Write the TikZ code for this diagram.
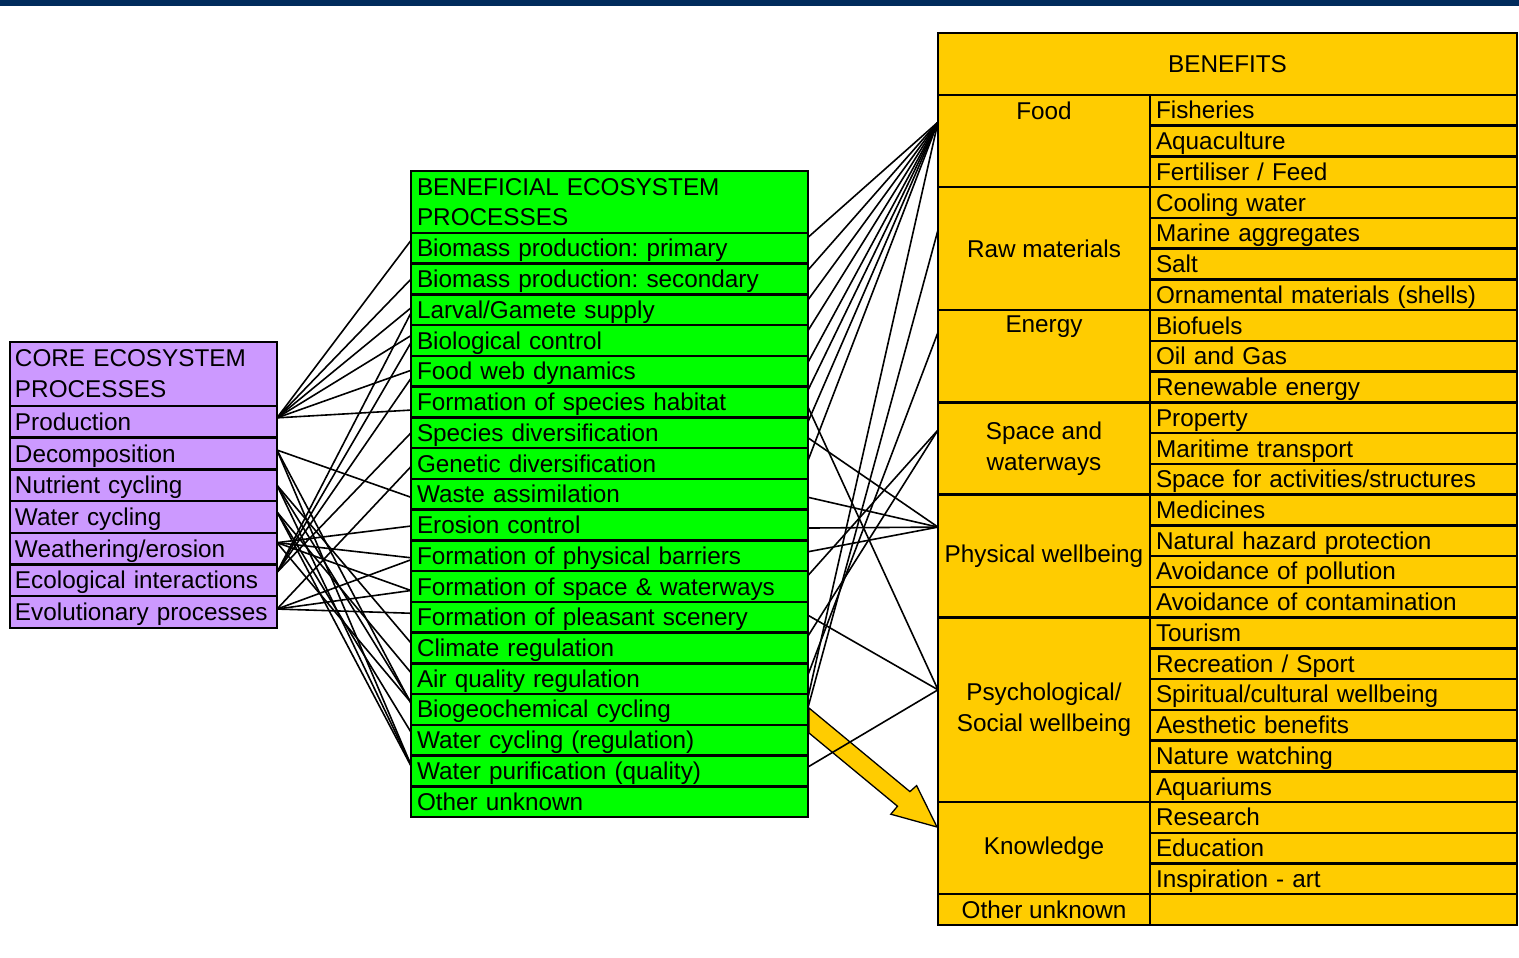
\documentclass[tikz,border=0pt]{standalone}
\usepackage{fontspec}
\setmainfont{Liberation Sans}
\frenchspacing
\definecolor{navy}{HTML}{002B5C}
\definecolor{lilac}{HTML}{CC99FF}
\definecolor{grn}{HTML}{00FF00}
\definecolor{gold}{HTML}{FFCC00}
\pgfdeclarelayer{arrowlayer}
\pgfdeclarelayer{linelayer}
\pgfsetlayers{arrowlayer,linelayer,main}
\begin{document}
\begin{tikzpicture}[x=1pt,y=-1pt,
  base/.style={draw=black, line width=2.5pt, rectangle, inner sep=0pt, outer sep=0pt, font=\fontsize{24.3}{31}\selectfont},
  rowtxt/.style={text height=20pt, text depth=3pt},
  lrow/.style={base, rowtxt, fill=lilac, minimum width=267pt, minimum height=31.7pt, text width=257pt, align=left, anchor=north west},
  lhead/.style={base, fill=lilac, minimum width=267pt, minimum height=64pt, text width=257pt, align=left, anchor=north west},
  mrow/.style={base, rowtxt, fill=grn, minimum width=397pt, minimum height=30.74pt, text width=385pt, align=left, anchor=north west},
  mhead/.style={base, fill=grn, minimum width=397pt, minimum height=62pt, text width=385pt, align=left, anchor=north west, font=\fontsize{24.3}{30}\selectfont},
  irow/.style={base, rowtxt, fill=gold, minimum width=367pt, minimum height=30.74pt, text width=355pt, align=left, anchor=north west},
  grp/.style={base, fill=gold, minimum width=212pt, anchor=north west, align=center},
  gtxt/.style={inner sep=0pt, font=\fontsize{24.3}{31}\selectfont},
  rhead/.style={base, fill=gold, minimum width=579pt, minimum height=62pt, anchor=north west},
  link/.style={draw=black, line width=1.6pt},
]
\useasboundingbox (0,0) rectangle (1519,958);
\fill[navy] (0,0) rectangle (1519,6);

% ---------- left table ----------
\node[lhead] (lh) at (10,342) {CORE ECOSYSTEM\\PROCESSES};
\foreach \t [count=\i] in {Production,Decomposition,Nutrient cycling,Water cycling,Weathering/erosion,Ecological interactions,Evolutionary processes}
  \node[lrow] (l\i) at (10,{406+(\i-1)*31.7}) {\t};

% ---------- middle table ----------
\node[mhead] (mh) at (411,171) {BENEFICIAL ECOSYSTEM\\PROCESSES};
\foreach \t [count=\i] in {Biomass production: primary,Biomass production: secondary,Larval/Gamete supply,Biological control,Food web dynamics,Formation of species habitat,Species diversification,Genetic diversification,Waste assimilation,Erosion control,Formation of physical barriers,Formation of space \& waterways,Formation of pleasant scenery,Climate regulation,Air quality regulation,Biogeochemical cycling,Water cycling (regulation),Water purification (quality),Other unknown}
  \node[mrow] (m\i) at (411,{233+(\i-1)*30.74}) {\t};

% ---------- right table ----------
\node[rhead] (rh) at (938,33) {BENEFITS};
\foreach \t [count=\i] in {Fisheries,Aquaculture,Fertiliser / Feed,Cooling water,Marine aggregates,Salt,Ornamental materials (shells),Biofuels,Oil and Gas,Renewable energy,Property,Maritime transport,Space for activities/structures,Medicines,Natural hazard protection,Avoidance of pollution,Avoidance of contamination,Tourism,Recreation / Sport,Spiritual/cultural wellbeing,Aesthetic benefits,Nature watching,Aquariums,Research,Education,Inspiration - art}
  \node[irow] (r\i) at (1150,{95+(\i-1)*30.74}) {\t};
\node[irow] (r27) at (1150,894.24) {};

\node[grp, minimum height=92.22pt] (gfood) at (938,95) {};
\node[gtxt] (tfood) at (1044,110.5) {Food};
\node[grp, minimum height=122.96pt] (graw) at (938,187.22) {Raw materials};
\node[grp, minimum height=92.22pt] (genergy) at (938,310.18) {};
\node[gtxt] (tenergy) at (1044,327) {Energy};
\node[grp, minimum height=92.22pt] (gspace) at (938,402.40) {Space and\\waterways};
\node[grp, minimum height=122.96pt] (gphys) at (938,494.62) {Physical wellbeing};
\node[grp, minimum height=184.44pt] (gpsych) at (938,617.58) {Psychological/\\Social wellbeing};
\node[grp, minimum height=92.22pt] (gknow) at (938,802.02) {Knowledge};
\node[grp, minimum height=30.74pt] (gother) at (938,894.24) {Other unknown};

% target points on the benefits groups
\coordinate (tF) at ([yshift=19pt]gfood.west);
\coordinate (tR) at ([yshift=18.7pt]graw.west);
\coordinate (tE) at ([yshift=24pt]genergy.west);
\coordinate (tS) at ([yshift=18.5pt]gspace.west);
\coordinate (tP) at ([yshift=29pt]gphys.west);
\coordinate (tY) at ([yshift=20pt]gpsych.west);

% ---------- big arrow ----------
\begin{pgfonlayer}{arrowlayer}
\draw[fill=gold, line width=1.3pt, line join=miter] (809,708) -- (909.9,791.6) -- (916.6,785.6) -- (937,827) -- (890.8,814.2) -- (897.5,806.2) -- (809,733) -- cycle;
\end{pgfonlayer}

% ---------- connectors ----------
\begin{pgfonlayer}{linelayer}
% core -> beneficial
\draw[link] ([yshift=4pt]l1.east) -- ([yshift=8pt]m1.west);
\draw[link] ([yshift=4pt]l1.east) -- (m2.west);
\draw[link] ([yshift=4pt]l1.east) -- ([yshift=2pt]m3.west);
\draw[link] ([yshift=4pt]l1.east) -- ([yshift=5pt]m4.west);
\draw[link] ([yshift=4pt]l1.east) -- ([yshift=1pt]m5.west);
\draw[link] ([yshift=4pt]l1.east) -- ([yshift=-8pt]m6.west);
\draw[link] ([yshift=3.5pt]l2.east) -- ([yshift=-3pt]m9.west);
\draw[link] ([yshift=3.5pt]l2.east) -- ([yshift=6pt]m16.west);
\draw[link] ([yshift=3.5pt]l2.east) -- ([yshift=6pt]m18.west);
\draw[link] (l3.east) -- ([yshift=5pt]m14.west);
\draw[link] (l3.east) -- ([yshift=7pt]m16.west);
\draw[link] (l3.east) -- ([yshift=6pt]m18.west);
\draw[link] ([yshift=5pt]l4.east) -- ([yshift=6pt]m15.west);
\draw[link] ([yshift=5pt]l4.east) -- ([yshift=8pt]m17.west);
\draw[link] ([yshift=5pt]l4.east) -- ([yshift=5pt]m18.west);
\draw[link] ([yshift=6pt]l5.east) -- ([yshift=-1pt]m10.west);
\draw[link] ([yshift=6pt]l5.east) -- ([yshift=-2pt]m11.west);
\draw[link] ([yshift=6pt]l5.east) -- ([yshift=-4pt]m12.west);
\draw[link] ([yshift=6pt]l5.east) -- ([yshift=7pt]m16.west);
\draw[link] ([yshift=8pt]l6.east) -- ([yshift=-3pt]m3.west);
\draw[link] ([yshift=8pt]l6.east) -- ([yshift=-2pt]m4.west);
\draw[link] ([yshift=8pt]l6.east) -- ([yshift=-7pt]m5.west);
\draw[link] ([yshift=8pt]l6.east) -- (m7.west);
\draw[link] ([yshift=3pt]l7.east) -- ([yshift=-3pt]m8.west);
\draw[link] ([yshift=3pt]l7.east) -- ([yshift=-4pt]m11.west);
\draw[link] ([yshift=3pt]l7.east) -- ([yshift=-4pt]m12.west);
\draw[link] ([yshift=3pt]l7.east) -- ([yshift=4pt]m13.west);
% beneficial -> benefits
\draw[link] ([yshift=11pt]m1.east) -- (tF);
\draw[link] ([yshift=9pt]m2.east) -- (tF);
\draw[link] ([yshift=10pt]m3.east) -- (tF);
\draw[link] ([yshift=10pt]m4.east) -- (tF);
\draw[link] ([yshift=9pt]m5.east) -- (tF);
\draw[link] ([yshift=12pt]m6.east) -- (tF);
\draw[link] ([yshift=11pt]m7.east) -- (tF);
\draw[link] ([yshift=3pt]m8.east) -- (tF);
\draw[link] ([yshift=12pt]m16.east) -- (tF);
\draw[link] ([yshift=2pt]m16.east) -- (tR);
\draw[link] ([yshift=4pt]m15.east) -- (tE);
\draw[link] ([yshift=11pt]m12.east) -- (tS);
\draw[link] ([yshift=12pt]m14.east) -- (tS);
\draw[link] ([yshift=-5pt]m7.east) -- (tP);
\draw[link] ([yshift=-3pt]m9.east) -- (tP);
\draw[link] ([yshift=-3pt]m10.east) -- (tP);
\draw[link] ([yshift=4pt]m11.east) -- (tP);
\draw[link] ([yshift=-5pt]m6.east) -- (tY);
\draw[link] ([yshift=2pt]m13.east) -- (tY);
\draw[link] ([yshift=4pt]m18.east) -- (tY);
\end{pgfonlayer}
\end{tikzpicture}
\end{document}
